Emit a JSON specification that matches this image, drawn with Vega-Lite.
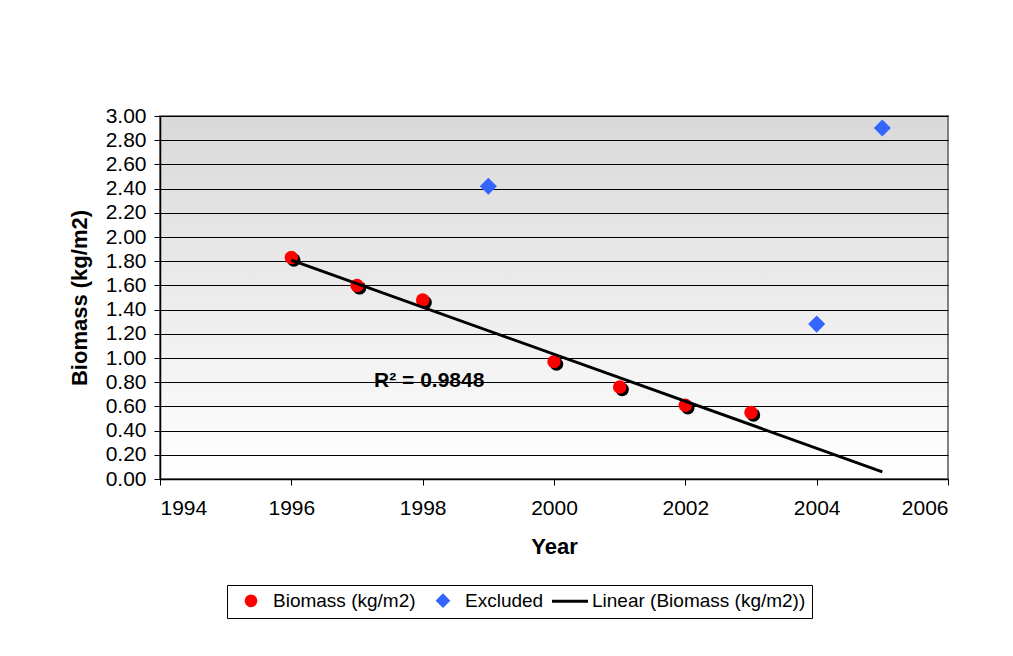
{
  "$schema": "https://vega.github.io/schema/vega-lite/v6.json",
  "width": 788,
  "height": 363,
  "autosize": {"type": "none"},
  "padding": {"left": 160, "top": 116, "right": 65, "bottom": 177},
  "background": "white",
  "view": {
    "stroke": "#808080",
    "strokeWidth": 2,
    "fill": {
      "gradient": "linear",
      "x1": 0, "y1": 0, "x2": 0, "y2": 1,
      "stops": [
        {"offset": 0, "color": "#d9d9d9"},
        {"offset": 1, "color": "#ffffff"}
      ]
    }
  },
  "config": {
    "font": "Liberation Sans",
    "axis": {
      "labelFont": "Liberation Sans",
      "labelFontSize": 21,
      "labelColor": "black",
      "titleFont": "Liberation Sans",
      "titleFontSize": 22,
      "titleFontWeight": "bold",
      "titleColor": "black",
      "domainColor": "black",
      "domainWidth": 1.5,
      "tickColor": "black",
      "tickSize": 6,
      "gridColor": "black",
      "gridOpacity": 1,
      "gridWidth": 1
    },
    "legend": {
      "orient": "none",
      "legendX": 67,
      "legendY": 469,
      "direction": "horizontal",
      "title": null,
      "strokeColor": "black",
      "fillColor": "white",
      "padding": 6,
      "labelFont": "Liberation Sans",
      "labelFontSize": 19,
      "labelColor": "black",
      "labelLimit": 400,
      "symbolSize": 625,
      "symbolOpacity": 1,
      "symbolStrokeWidth": 3,
      "columnPadding": 1,
      "labelOffset": 10
    }
  },
  "datasets": {
    "biomass": [
      {"year": 1996, "biomass": 1.83, "series": "Biomass (kg/m2)"},
      {"year": 1997, "biomass": 1.60, "series": "Biomass (kg/m2)"},
      {"year": 1998, "biomass": 1.48, "series": "Biomass (kg/m2)"},
      {"year": 2000, "biomass": 0.97, "series": "Biomass (kg/m2)"},
      {"year": 2001, "biomass": 0.76, "series": "Biomass (kg/m2)"},
      {"year": 2002, "biomass": 0.61, "series": "Biomass (kg/m2)"},
      {"year": 2003, "biomass": 0.55, "series": "Biomass (kg/m2)"},
      {"year": 1999, "biomass": 2.42, "series": "Excluded"},
      {"year": 2004, "biomass": 1.28, "series": "Excluded"},
      {"year": 2005, "biomass": 2.90, "series": "Excluded"}
    ]
  },
  "data": {"name": "biomass"},
  "encoding": {
    "x": {"field": "year", "type": "quantitative", "scale": {"domain": [1994, 2006], "nice": false},
          "axis": {"title": "Year", "tickCount": 6, "format": "d", "grid": false, "labelPadding": 12, "titlePadding": 18}},
    "y": {"field": "biomass", "type": "quantitative", "scale": {"domain": [0, 3], "nice": false},
          "axis": {"title": "Biomass (kg/m2)", "tickCount": 15, "format": ".2f", "grid": true, "labelPadding": 8, "titlePadding": 14}}
  },
  "layer": [
    {
      "transform": [{"filter": "datum.series === 'Biomass (kg/m2)'"}],
      "mark": {"type": "point", "filled": true, "shape": "circle", "size": 180, "opacity": 1, "color": "black", "xOffset": 2.5, "yOffset": 2.5}
    },
    {
      "transform": [{"filter": "datum.series === 'Biomass (kg/m2)'"}],
      "mark": {"type": "point", "filled": true, "size": 180, "opacity": 1},
      "encoding": {
        "color": {"field": "series", "type": "nominal",
                  "scale": {"domain": ["Biomass (kg/m2)", "Excluded", "Linear (Biomass (kg/m2))"], "range": ["#ff0000", "#3366ff", "#000000"]},
                  "legend": {
                    "encode": {
                      "symbols": {
                        "update": {
                          "x": {"signal": "datum.value === 'Excluded' ? 26 : 18"},
                          "size": {"signal": "datum.value === 'Linear (Biomass (kg/m2))' ? 1300 : datum.value === 'Excluded' ? 110 : 95"},
                          "stroke": {"scale": "color", "field": "value"}
                        }
                      },
                      "labels": {
                        "update": {
                          "x": {"signal": "datum.value === 'Excluded' ? 48 : 40"}
                        }
                      }
                    }
                  }},
        "shape": {"field": "series", "type": "nominal",
                  "scale": {"domain": ["Biomass (kg/m2)", "Excluded", "Linear (Biomass (kg/m2))"], "range": ["circle", "diamond", "stroke"]}}
      }
    },
    {
      "transform": [{"filter": "datum.series === 'Excluded'"}],
      "mark": {"type": "point", "filled": true, "size": 290, "opacity": 1},
      "encoding": {
        "color": {"field": "series", "type": "nominal"},
        "shape": {"field": "series", "type": "nominal"}
      }
    },
    {
      "transform": [
        {"filter": "datum.series === 'Biomass (kg/m2)'"},
        {"regression": "biomass", "on": "year", "extent": [1996, 2005]}
      ],
      "mark": {"type": "line", "strokeWidth": 3},
      "encoding": {
        "color": {"datum": "Linear (Biomass (kg/m2))", "type": "nominal"}
      }
    },
    {
      "data": {"values": [{"year": 1998.1, "biomass": 0.81, "label": "R² = 0.9848"}]},
      "mark": {"type": "text", "font": "Liberation Sans", "fontSize": 21, "fontWeight": "bold", "color": "black"},
      "encoding": {
        "text": {"field": "label"}
      }
    }
  ]
}
